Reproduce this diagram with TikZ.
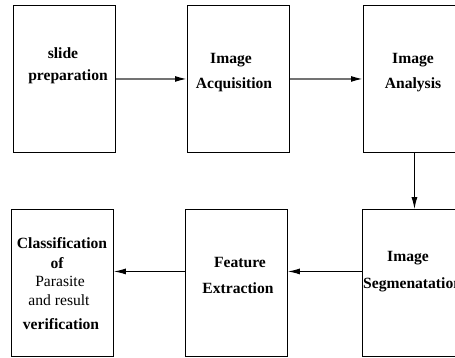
\documentclass[tikz,border=0pt]{standalone}
\usepackage{fontspec}
\setmainfont{Liberation Serif}
\usetikzlibrary{arrows.meta}
\begin{document}
\begin{tikzpicture}[x=1pt,y=-1pt,
  box/.style={draw, line width=0.9pt, minimum width=102pt, minimum height=147pt, inner sep=0pt, anchor=north west},
  lbl/.style={font=\fontsize{15.6}{18}\selectfont\bfseries, inner sep=0pt},
  lblr/.style={font=\fontsize{15.6}{18}\selectfont, inner sep=0pt},
  arr/.style={line width=1pt, -{Latex[length=12pt,width=6pt]}},
  toparr/.style={line width=1.6pt, draw=black!55, -{Latex[length=12pt,width=6pt,fill=black,color=black]}}]
\useasboundingbox (0,0) rectangle (455,357);
\clip (0,0) rectangle (455,357);
% boxes
\node[box] (b1) at (13,5) {};
\node[box] (b2) at (187,5) {};
\node[box] (b3) at (363,5) {};
\node[box] (b4) at (11,209) {};
\node[box] (b5) at (185,209) {};
\node[box] (b6) at (362,209) {};
% labels
\node[lbl] (t1a) at (63,53) {slide};
\node[lbl] (t1b) at (68,77) {preparation};
\node[lbl] (t2a) at (231,60) {Image};
\node[lbl] (t2b) at (234,85) {Acquisition};
\node[lbl] (t3a) at (413,60) {Image};
\node[lbl] (t3b) at (413,85) {Analysis};
\node[lbl] (t4a) at (62,243) {Classification};
\node[lbl] (t4b) at (57,263) {of};
\node[lblr] (t4c) at (60,281) {Parasite};
\node[lblr] (t4d) at (59,300) {and result};
\node[lbl] (t4e) at (61,324) {verification};
\node[lbl] (t5a) at (240,262) {Feature};
\node[lbl] (t5b) at (238,288) {Extraction};
\node[lbl] (t6a) at (408,258) {Image};
\node[lbl, anchor=west] (t6b) at (363,285) {Segmenatation};
% connectors
\draw[toparr] (b1.east) -- (b2.west);
\draw[toparr] (b2.east) -- (b3.west);
\draw[arr] (b3.south) -- (b3.south |- b6.north);
\draw[arr] ([yshift=11.5pt]b6.west) -- ([yshift=11.5pt]b5.east);
\draw[arr] ([yshift=11.5pt]b5.west) -- ([yshift=11.5pt]b4.east);
\end{tikzpicture}
\end{document}
